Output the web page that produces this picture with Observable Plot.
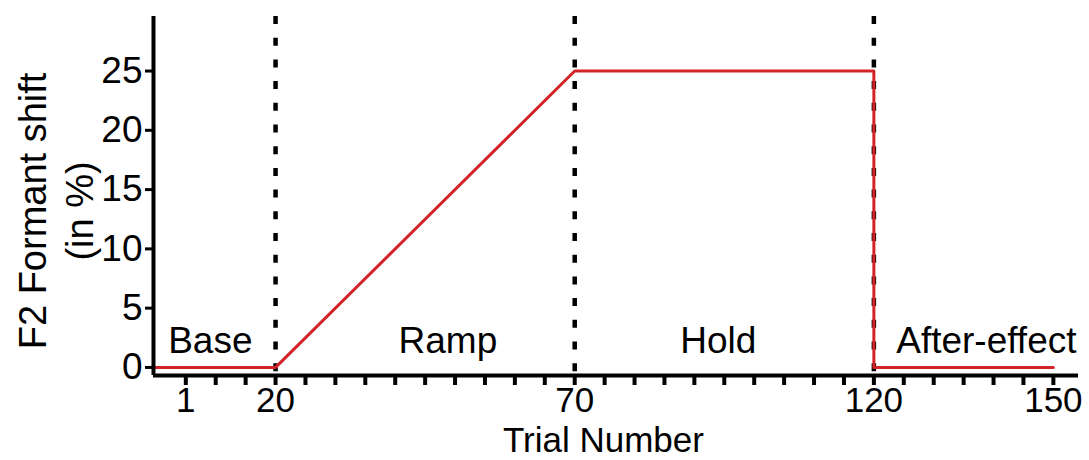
<!DOCTYPE html>
<html><head><meta charset="utf-8">
<script src="https://cdn.jsdelivr.net/npm/d3@7"></script>
<script src="https://cdn.jsdelivr.net/npm/@observablehq/plot@0.6"></script>
<style>body{margin:0;background:#fff}</style>
</head><body><div id="chart"></div>
<script>
// Perturbation schedule (F2 formant shift in % by trial)
const trials = [0, 20, 70, 120, 120, 150];
const shifts = [0, 0, 25, 25, 0, 0];
// Phase boundaries (dotted lines)
const boundaries = [20, 70, 120];
// Phase labels and their centre trial
const phaseNames = ["Base", "Ramp", "Hold", "After-effect"];
const phaseCenters = [9.1, 48.8, 94, 138.8];
// Axis ticks
const xTicks = [5, 10, 15, 20, 25, 30, 35, 40, 45, 50, 55, 60, 65, 70, 75, 80, 85, 90, 95, 100, 105, 110, 115, 120, 125, 130, 135, 140, 145, 150];
const xTickLabels = {5: "1", 20: "20", 70: "70", 120: "120", 150: "150"};
const yTicks = [0, 5, 10, 15, 20, 25];
const xDomain = [-0.4, 154.2];
const yDomain = [-0.68, 29.6];

const data = trials.map((t, i) => ({trial: t, shift: shifts[i]}));
const phases = phaseNames.map((n, i) => ({name: n, x: phaseCenters[i]}));

const chart = Plot.plot({
  width: 1089,
  height: 460,
  marginLeft: 153,
  marginRight: 11,
  marginTop: 16,
  marginBottom: 85,
  x: {domain: xDomain},
  y: {domain: yDomain},
  style: {fontFamily: "'Liberation Sans', Arial, sans-serif", fontSize: "36px", color: "#000", background: "#fff"},
  marks: [
    Plot.ruleX(boundaries, {stroke: "#000", strokeWidth: 4.5, strokeDasharray: "8,13.7"}),
    Plot.line(data, {x: "trial", y: "shift", stroke: "#d22328", strokeWidth: 3}),
    Plot.ruleX([xDomain[0]], {stroke: "#000", strokeWidth: 4}),
    Plot.ruleY([yDomain[0]], {stroke: "#000", strokeWidth: 4}),
    Plot.axisY({ticks: yTicks, tickSize: 8, tickPadding: 3, strokeWidth: 3, fontSize: 37, label: null, tickFormat: d => String(d)}),
    Plot.axisX({ticks: xTicks, tickSize: 10, tickPadding: 2, strokeWidth: 4, fontSize: 35, label: null, tickFormat: d => xTickLabels[d] ?? ""}),
    Plot.text(phases, {x: "x", y: 2.25, text: "name", fontSize: 37, lineAnchor: "middle", textAnchor: "middle"}),
    Plot.text(["F2 Formant shift\n(in %)"], {frameAnchor: "left", y: 13.2, rotate: -90, lineAnchor: "top", textAnchor: "middle", dx: -140, lineHeight: 1.22, fontSize: 38}),
    Plot.text(["Trial Number"], {x: 74.8, frameAnchor: "bottom", lineAnchor: "top", dy: 52, fontSize: 35})
  ]
});
document.getElementById("chart").appendChild(chart);
</script>
</body></html>
